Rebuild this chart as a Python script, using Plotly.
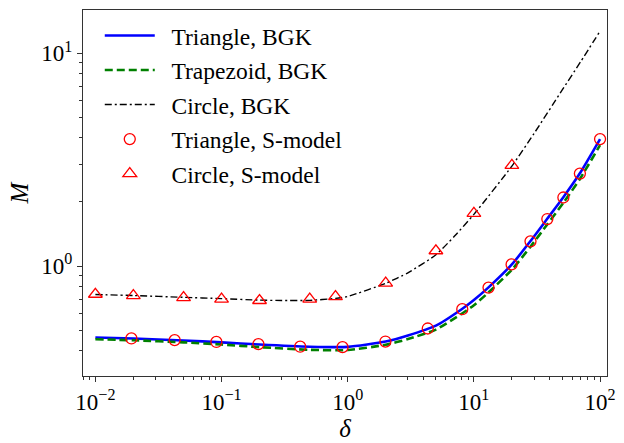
import plotly.graph_objects as go

# BGK solution curves (delta, mass flow rate M)
delta_line = [0.01, 0.02, 0.05, 0.1, 0.2, 0.5, 1, 2, 3, 5, 8, 10, 13, 20, 28, 38, 51, 69, 100]
m_triangle_bgk = [0.462, 0.457, 0.447, 0.438, 0.428, 0.418, 0.417, 0.442, 0.472, 0.525,
                  0.627, 0.693, 0.792, 1.018, 1.307, 1.663, 2.10, 2.72, 3.95]
m_trapezoid_bgk = [0.453, 0.448, 0.438, 0.428, 0.416, 0.404, 0.403, 0.427, 0.454, 0.503,
                   0.597, 0.655, 0.750, 0.962, 1.23, 1.565, 1.975, 2.56, 3.70]

delta_circle = [0.01, 0.02, 0.05, 0.1, 0.2, 0.3, 0.5, 0.8, 1, 2, 3, 5, 7, 10, 20, 30, 50, 70, 100]
m_circle_bgk = [0.735, 0.727, 0.713, 0.703, 0.692, 0.689, 0.690, 0.705, 0.72, 0.83, 0.93,
                1.13, 1.38, 1.75, 2.95, 4.2, 6.7, 9.1, 12.7]

# S-model results
delta_tri_s = [0.0193, 0.0425, 0.091, 0.196, 0.42, 0.91, 1.99, 4.31, 8.09, 13.06, 19.9,
               28.1, 38.2, 51.2, 69.2, 100]
m_tri_s = [0.457, 0.449, 0.440, 0.430, 0.418, 0.416, 0.442, 0.509, 0.627, 0.792, 1.018,
           1.307, 1.663, 2.10, 2.72, 3.95]

delta_circ_s = [0.01, 0.02, 0.05, 0.1, 0.2, 0.5, 0.8, 2, 5, 10, 20]
m_circ_s = [0.737, 0.726, 0.711, 0.700, 0.689, 0.700, 0.719, 0.832, 1.18, 1.77, 2.97]

# decade tick positions and their labels
x_ticks = [0.01, 0.1, 1, 10, 100]
x_ticklabels = ["10<sup>−2</sup>", "10<sup>−1</sup>", "10<sup>0</sup>", "10<sup>1</sup>", "10<sup>2</sup>"]
y_ticks = [1, 10]
y_ticklabels = ["10<sup>0</sup>", "10<sup>1</sup>"]

FONT = "Liberation Serif"
PAD = "\u00a0\u00a0"

fig = go.Figure()
fig.add_trace(go.Scatter(x=delta_line, y=m_triangle_bgk, mode="lines", name=PAD + "Triangle, BGK",
                         legendgroup="a",
                         line=dict(color="#0000ff", width=2.6, shape="spline", smoothing=0.6)))
fig.add_trace(go.Scatter(x=delta_line, y=m_trapezoid_bgk, mode="lines", name=PAD + "Trapezoid, BGK",
                         legendgroup="b",
                         line=dict(color="#008000", width=2.6, dash="8px,4px", shape="spline", smoothing=0.6)))
fig.add_trace(go.Scatter(x=delta_circle, y=m_circle_bgk, mode="lines", name=PAD + "Circle, BGK",
                         legendgroup="c",
                         line=dict(color="black", width=1.4, dash="7px,3px,2px,3px", shape="spline", smoothing=0.6)))
fig.add_trace(go.Scatter(x=delta_tri_s, y=m_tri_s, mode="markers", name=PAD + "Triangle, S-model",
                         legendgroup="d",
                         marker=dict(symbol="circle-open", size=11, color="red", line=dict(color="red", width=1.3))))
fig.add_trace(go.Scatter(x=delta_circ_s, y=m_circ_s, mode="markers", name=PAD + "Circle, S-model",
                         legendgroup="e",
                         marker=dict(symbol="triangle-up-open", size=12, color="red", line=dict(color="red", width=1.3))))

x_minor = [m * 10.0 ** e for e in range(-3, 3) for m in range(2, 10)]
y_minor = [m * 10.0 ** e for e in range(-1, 2) for m in range(2, 10)]

axis_common = dict(
    type="log", showgrid=False, zeroline=False, showline=True, mirror=True,
    linecolor="#333333", linewidth=1, ticks="outside", ticklen=5, tickwidth=1,
    tickcolor="#333333",
    tickfont=dict(family=FONT, size=23, color="black"),
)

fig.update_xaxes(**axis_common, range=[-2.098, 2.055], tickvals=x_ticks, ticktext=x_ticklabels,
                 minor=dict(tickvals=x_minor, ticks="outside", ticklen=3, tickcolor="#333333", showgrid=False),
                 title=dict(text="<i>δ</i>", font=dict(family=FONT, size=25, color="black"), standoff=2))
fig.update_yaxes(**axis_common, range=[-0.5165, 1.203], tickvals=y_ticks, ticktext=y_ticklabels,
                 minor=dict(tickvals=y_minor, ticks="outside", ticklen=3, tickcolor="#333333", showgrid=False),
                 title=dict(text="<i>M</i>", font=dict(family=FONT, size=25, color="black"), standoff=5))

fig.update_layout(
    width=624, height=443,
    margin=dict(l=83, r=9, t=10, b=54),
    plot_bgcolor="white", paper_bgcolor="white",
    font=dict(family=FONT, color="black"),
    legend=dict(x=0.032, y=0.99, xanchor="left", yanchor="top",
                bgcolor="rgba(255,255,255,0)", borderwidth=0,
                font=dict(family=FONT, size=23.5, color="black"),
                itemwidth=50, tracegroupgap=1),
    showlegend=True,
)

fig.write_html("out.html")
